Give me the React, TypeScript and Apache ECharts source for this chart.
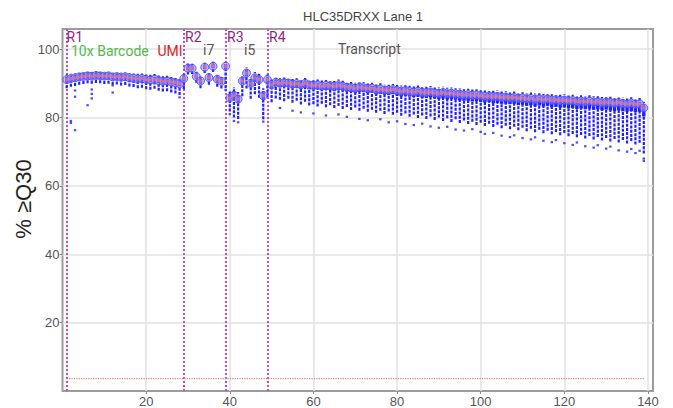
import React, { useEffect, useRef } from "react";
import * as echarts from "echarts";

// ---- data ----
const titleText = "HLC35DRXX Lane 1";
const yName = "% \u2265Q30";
const xTicks = [20, 40, 60, 80, 100, 120, 140];
const yTicks = [20, 40, 60, 80, 100];

const regionNames = ["R1", "R2", "R3", "R4"];
const regionStarts = [1, 29, 39, 49];

// per-cycle stats: [lowWhisker, Q1, median, Q3, highWhisker]
const r1Stats = [
  [88.6, 90.3, 91.1, 91.8, 92.6], [89.0, 90.7, 91.4, 92.0, 92.8], [89.2, 90.9, 91.6, 92.3, 93.0],
  [89.6, 91.2, 91.9, 92.5, 93.2], [89.8, 91.3, 92.0, 92.6, 93.4], [90.0, 91.5, 92.2, 92.8, 93.5],
  [89.9, 91.4, 92.1, 92.7, 93.4], [90.1, 91.6, 92.3, 92.9, 93.6], [90.0, 91.5, 92.2, 92.8, 93.5],
  [89.8, 91.4, 92.1, 92.7, 93.4], [89.9, 91.5, 92.2, 92.8, 93.5], [89.6, 91.2, 91.9, 92.5, 93.3],
  [89.7, 91.3, 92.0, 92.6, 93.4], [89.4, 91.1, 91.8, 92.4, 93.2], [89.5, 91.2, 91.9, 92.5, 93.3],
  [89.1, 90.9, 91.6, 92.2, 93.0], [88.9, 90.8, 91.5, 92.1, 92.9], [88.6, 90.6, 91.3, 91.9, 92.8],
  [88.7, 90.7, 91.4, 92.0, 92.9], [88.3, 90.4, 91.1, 91.7, 92.6], [88.1, 90.3, 91.0, 91.6, 92.5],
  [88.4, 90.5, 91.2, 91.8, 92.7], [87.8, 90.1, 90.8, 91.4, 92.3], [87.6, 89.9, 90.6, 91.2, 92.1],
  [87.7, 90.0, 90.7, 91.3, 92.2], [87.3, 89.7, 90.4, 91.0, 91.9], [87.0, 89.5, 90.2, 90.8, 91.7],
  [86.6, 89.2, 89.9, 90.5, 91.5],
];
const r2Stats = [
  [88.3, 90.7, 91.4, 92.0, 92.8], [92.6, 93.8, 94.4, 95.0, 95.8], [92.7, 93.8, 94.4, 95.0, 95.7],
  [90.2, 91.4, 92.0, 92.6, 93.4], [88.6, 90.0, 90.7, 91.3, 92.1], [93.0, 94.1, 94.7, 95.3, 96.0],
  [89.6, 91.0, 91.7, 92.3, 93.1], [93.3, 94.4, 95.0, 95.6, 96.3], [89.0, 90.5, 91.2, 91.8, 92.6],
  [88.5, 89.9, 90.6, 91.2, 92.0],
];
const r3Stats = [
  [88.6, 94.2, 95.0, 95.6, 96.2], [81.8, 84.8, 85.7, 86.6, 87.8], [80.0, 85.4, 86.5, 87.6, 88.8],
  [79.6, 84.3, 85.4, 86.4, 87.5], [86.2, 89.8, 90.7, 91.5, 92.4], [88.5, 92.1, 93.0, 93.8, 94.8],
  [85.5, 89.1, 90.0, 90.8, 91.7], [86.8, 90.8, 91.6, 92.4, 93.3], [85.8, 90.2, 91.1, 91.9, 92.8],
  [79.5, 85.2, 86.4, 87.4, 88.6],
];
const r4Stats = [
  [86.0, 90.1, 91.1, 91.7, 92.6], [84.5, 88.6, 89.6, 90.2, 91.1], [85.6, 89.2, 90.3, 90.9, 91.8],
  [85.2, 89.0, 90.0, 90.6, 91.6], [84.8, 89.1, 90.2, 90.8, 91.7], [85.5, 89.0, 90.1, 90.7, 91.6],
  [84.3, 88.7, 89.8, 90.4, 91.3], [84.9, 88.8, 89.9, 90.5, 91.5], [83.8, 88.4, 89.6, 90.2, 91.1],
  [84.6, 88.9, 90.0, 90.6, 91.6], [83.5, 88.3, 89.5, 90.1, 91.0], [83.9, 88.2, 89.4, 90.0, 91.0],
  [83.2, 88.3, 89.5, 90.1, 91.1], [84.0, 88.0, 89.2, 89.8, 90.8], [83.0, 88.1, 89.4, 90.0, 91.0],
  [83.6, 88.0, 89.3, 89.9, 90.9], [82.8, 87.8, 89.1, 89.7, 90.7], [83.4, 88.1, 89.4, 90.0, 91.1],
  [82.5, 87.9, 89.2, 89.8, 90.8], [83.1, 87.6, 88.9, 89.5, 90.5], [82.2, 87.5, 88.8, 89.4, 90.4],
  [82.9, 87.3, 88.6, 89.2, 90.3], [82.0, 87.6, 88.9, 89.5, 90.5], [82.6, 87.4, 88.7, 89.3, 90.3],
  [81.7, 87.1, 88.5, 89.1, 90.1], [82.3, 87.3, 88.6, 89.2, 90.2], [81.4, 86.8, 88.2, 88.8, 89.8],
  [82.0, 86.9, 88.3, 88.9, 90.0], [81.0, 86.7, 88.1, 88.7, 89.7], [81.8, 86.6, 88.0, 88.6, 89.6],
  [80.8, 86.8, 88.2, 88.8, 89.8], [81.4, 86.4, 87.9, 88.5, 89.5], [80.5, 86.2, 87.7, 88.3, 89.4],
  [81.2, 86.4, 87.9, 88.5, 89.6], [80.2, 86.1, 87.6, 88.2, 89.3], [80.9, 86.0, 87.5, 88.1, 89.1],
  [79.9, 86.1, 87.7, 88.3, 89.4], [80.6, 85.8, 87.4, 88.0, 89.1], [79.6, 85.7, 87.3, 87.9, 89.0],
  [80.3, 85.9, 87.5, 88.1, 89.2], [79.3, 85.6, 87.2, 87.8, 88.9], [80.0, 85.4, 87.1, 87.7, 88.8],
  [79.0, 85.6, 87.3, 87.9, 89.0], [79.8, 85.3, 87.0, 87.6, 88.7], [78.7, 85.4, 87.1, 87.7, 88.8],
  [79.5, 85.2, 86.9, 87.5, 88.6], [78.4, 85.0, 86.8, 87.4, 88.5], [79.1, 84.9, 86.6, 87.2, 88.3],
  [78.1, 84.9, 86.7, 87.3, 88.4], [78.8, 84.7, 86.5, 87.1, 88.2], [77.8, 84.8, 86.6, 87.2, 88.3],
  [78.5, 84.6, 86.4, 87.0, 88.1], [77.5, 84.4, 86.2, 86.8, 87.9], [78.2, 84.5, 86.3, 86.9, 88.0],
  [77.2, 84.2, 86.1, 86.7, 87.8], [77.9, 84.3, 86.2, 86.8, 87.9], [76.9, 84.0, 85.9, 86.5, 87.6],
  [77.6, 84.1, 86.0, 86.6, 87.7], [76.6, 83.9, 85.8, 86.4, 87.5], [77.3, 84.0, 85.9, 86.5, 87.6],
  [76.3, 83.6, 85.6, 86.2, 87.3], [77.0, 83.8, 85.7, 86.3, 87.4], [76.0, 83.5, 85.5, 86.1, 87.2],
  [76.7, 83.6, 85.6, 86.2, 87.3], [75.7, 83.3, 85.3, 85.9, 87.0], [76.4, 83.5, 85.5, 86.1, 87.2],
  [75.4, 83.2, 85.2, 85.8, 86.9], [76.1, 83.4, 85.4, 86.0, 87.1], [75.1, 83.0, 85.1, 85.7, 86.8],
  [75.8, 83.1, 85.2, 85.8, 86.9], [74.8, 82.9, 85.0, 85.6, 86.7], [75.5, 83.0, 85.1, 85.7, 86.8],
  [74.5, 82.7, 84.9, 85.5, 86.6], [75.2, 82.8, 85.0, 85.6, 86.7], [74.2, 82.5, 84.7, 85.3, 86.4],
  [74.9, 82.6, 84.8, 85.4, 86.5], [73.9, 82.4, 84.6, 85.2, 86.3], [74.6, 82.6, 84.8, 85.4, 86.5],
  [73.6, 82.3, 84.5, 85.1, 86.2], [74.3, 82.4, 84.6, 85.2, 86.3], [73.3, 82.1, 84.3, 84.9, 86.0],
  [74.0, 82.3, 84.5, 85.1, 86.2], [73.0, 82.1, 84.4, 85.0, 86.1], [73.7, 81.9, 84.2, 84.8, 85.9],
  [72.7, 82.1, 84.4, 85.0, 86.1], [73.4, 81.8, 84.1, 84.7, 85.8], [72.4, 81.7, 84.0, 84.6, 85.7],
  [73.1, 81.9, 84.2, 84.8, 85.9], [72.1, 81.6, 83.9, 84.5, 85.6], [72.6, 81.7, 84.0, 84.6, 85.7],
  [69.5, 80.3, 82.8, 83.5, 84.6],
];

// outlier points: [cycle, value]
const outliers = [
  [2, 79.0], [2, 78.4], [3, 76.3], [3, 87.9], [3, 86.1], [6, 83.6], [7, 88.2], [7, 86.9], [7, 85.6],
  [12, 89.4], [12, 87.3], [28, 85.9], [39, 88.0], [40, 81.0], [41, 79.0], [42, 78.6], [48, 78.8],
  [52, 82.8], [55, 82.0], [57, 81.5], [60, 81.2], [63, 80.6], [66, 80.9], [68, 80.2], [71, 79.6],
  [73, 79.2], [76, 79.5], [78, 78.6], [80, 78.9], [82, 78.1], [84, 77.8], [86, 78.2], [88, 77.4],
  [90, 77.0], [92, 77.3], [94, 76.5], [96, 76.2], [98, 76.6], [100, 75.8], [101, 75.2], [103, 75.5],
  [105, 74.7], [107, 74.3], [108, 74.8], [110, 74.0], [112, 73.6], [113, 74.2], [115, 73.2],
  [117, 72.8], [118, 73.4], [120, 72.5], [122, 72.0], [123, 72.7], [125, 71.6], [127, 71.2],
  [128, 71.9], [130, 70.9], [131, 71.5], [133, 70.4], [135, 70.0], [136, 70.8], [137, 69.6],
  [138, 70.3], [139, 68.0], [139, 67.3],
];

// flat reference series (red dotted)
const refCycles = [1, 139];
const refValues = [3.6, 3.6];

const BLUE = "#1f1fff";

export default function App() {
  const ref = useRef<HTMLDivElement>(null);
  useEffect(() => {
    if (!ref.current) return;
    const chart = echarts.init(ref.current, null, { renderer: "svg" });

    const allStats = [
      ...r1Stats.map((s, i) => [regionStarts[0] + i, ...s]),
      ...r2Stats.map((s, i) => [regionStarts[1] + i, ...s]),
      ...r3Stats.map((s, i) => [regionStarts[2] + i, ...s]),
      ...r4Stats.map((s, i) => [regionStarts[3] + i, ...s]),
    ];
    const medians = allStats.map((d) => [d[0], d[3]]);

    const txt = (text: string, x: number, y: number, fill: string, fontSize = 14, fontFamily = "Roboto") => ({
      type: "text",
      x,
      y,
      silent: true,
      z: 50,
      style: { text, fill, fontSize, fontFamily, textVerticalAlign: "middle" },
    });

    const option: any = {
      animation: false,
      backgroundColor: "#ffffff",
      title: {
        text: titleText,
        left: 358,
        textAlign: "center",
        top: 5,
        textStyle: { fontSize: 13, fontWeight: "normal", color: "#444", fontFamily: "Liberation Sans" },
      },
      grid: {
        left: 62.5,
        right: 20,
        top: 29,
        bottom: 15,
        show: true,
        borderColor: "#9c9c9c",
        borderWidth: 2,
        backgroundColor: "transparent",
      },
      xAxis: {
        type: "value",
        min: 0,
        max: 141.2,
        interval: 20,
        axisLine: { show: false },
        axisTick: { show: true, customValues: xTicks, length: 3, lineStyle: { color: "#888" } },
        axisLabel: {
          customValues: xTicks,
          color: "#555",
          fontSize: 13,
          fontFamily: "Liberation Sans",
          margin: 4,
        },
        splitLine: { show: true, lineStyle: { color: "#e2e2e2", width: 1.5 } },
      },
      yAxis: {
        type: "value",
        min: 0,
        max: 105.9,
        interval: 20,
        axisLine: { show: false },
        axisTick: { show: true, customValues: yTicks, length: 3, lineStyle: { color: "#888" } },
        axisLabel: {
          customValues: yTicks,
          color: "#555",
          fontSize: 13,
          fontFamily: "Liberation Sans",
          margin: 3,
        },
        splitLine: { show: true, lineStyle: { color: "#e2e2e2", width: 1.5 } },
      },
      series: [
        {
          type: "line",
          name: "ref",
          data: refCycles.map((c, i) => [c, refValues[i]]),
          showSymbol: false,
          lineStyle: { color: "#e07a7a", type: "dotted", width: 1.2 },
          z: 2,
          markLine: {
            silent: true,
            symbol: ["none", "none"],
            label: { show: false },
            lineStyle: { color: "#c64ac6", type: "dotted", width: 2 },
            data: regionStarts.map((x) => ({ xAxis: x })),
            z: 2,
          },
        },
        {
          type: "custom",
          name: "boxes",
          data: allStats,
          z: 5,
          renderItem: (params: any, api: any) => {
            const x = api.value(0);
            const pLo = api.coord([x, api.value(1)]);
            const pQ1 = api.coord([x, api.value(2)]);
            const pQ3 = api.coord([x, api.value(4)]);
            const pHi = api.coord([x, api.value(5)]);
            const bw = 3.4;
            return {
              type: "group",
              children: [
                {
                  type: "line",
                  shape: { x1: pLo[0], y1: pLo[1], x2: pHi[0], y2: pHi[1] },
                  style: { stroke: BLUE, lineWidth: 2.2, lineDash: [3, 1.2] },
                },
                {
                  type: "rect",
                  shape: { x: pQ3[0] - bw / 2, y: pQ3[1], width: bw, height: pQ1[1] - pQ3[1] },
                  style: { fill: BLUE },
                },
              ],
            };
          },
        },
        {
          type: "scatter",
          name: "outliers",
          data: outliers,
          symbol: "rect",
          symbolSize: [2.4, 2.2],
          itemStyle: { color: BLUE },
          z: 5,
        },
        {
          type: "scatter",
          name: "medianRing",
          data: medians,
          symbol: "circle",
          symbolSize: 8,
          itemStyle: { color: "rgba(140,140,255,0.75)", borderColor: "#4646ff", borderWidth: 1 },
          z: 6,
        },
        {
          type: "scatter",
          name: "medianDot",
          data: medians,
          symbol: "rect",
          symbolSize: 3,
          itemStyle: { color: "#ff6a6a" },
          z: 7,
        },
      ],
      graphic: [
        {
          type: "text",
          x: 23,
          y: 199,
          rotation: Math.PI / 2,
          silent: true,
          style: {
            text: yName,
            fill: "#222",
            fontSize: 22,
            fontFamily: "Liberation Sans",
            textAlign: "center",
            textVerticalAlign: "middle",
          },
        },
        txt(regionNames[0], 66.5, 37, "#8e1f8e", 14),
        txt(regionNames[1], 185, 37, "#8e1f8e", 14),
        txt(regionNames[2], 227, 37, "#8e1f8e", 14),
        txt(regionNames[3], 269, 37, "#8e1f8e", 14),
        txt("10x Barcode", 71, 51, "#55b84a"),
        txt("UMI", 157.5, 51, "#e0202a"),
        txt("i7", 203, 50, "#555"),
        txt("i5", 244, 50, "#555"),
        txt("Transcript", 338, 49, "#555"),
      ],
    };
    chart.setOption(option);
    return () => chart.dispose();
  }, []);

  return (
    <div
      ref={ref}
      style={{ position: "fixed", left: 0, top: 0, width: 673, height: 408, background: "#fff" }}
    />
  );
}
